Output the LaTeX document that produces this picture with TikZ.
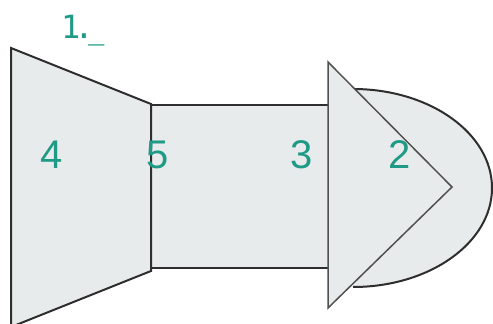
\documentclass[tikz,border=0pt]{standalone}
\usepackage{fontspec}
\setmainfont{Liberation Sans}
\newfontfamily\labmono{DejaVu Sans Mono}
\definecolor{shapefill}{HTML}{E8EBEC}
\definecolor{edgecol}{HTML}{2E2E2E}
\definecolor{tricol}{HTML}{505050}
\definecolor{labcol}{HTML}{1E9A86}
\tikzset{
  part/.style={fill=shapefill, draw=edgecol, line width=2pt, line join=miter},
  tripart/.style={fill=shapefill, draw=tricol, line width=1.5pt, line join=miter},
  numlab/.style={text=labcol, font=\fontsize{40}{40}\selectfont, inner sep=0pt, anchor=center},
  toplab/.style={text=labcol, font=\labmono\fontsize{32}{32}\selectfont, inner sep=0pt, anchor=base west}
}
\begin{document}
\begin{tikzpicture}[x=1pt,y=-1pt]
\useasboundingbox (0,0) rectangle (493,324);
% rectangle body
\draw[part] (151,105) rectangle (334,268);
% trapezoid
\draw[part] (11,48) -- (151,104) -- (151,271) -- (11,327) -- cycle;
% half ellipse
\fill[shapefill] (353,89) arc[start angle=90, end angle=-90, x radius=139pt, y radius=99pt] -- cycle;
\draw[draw=edgecol, line width=2pt] (353,89) arc[start angle=90, end angle=-90, x radius=139pt, y radius=99pt];
% triangle
\draw[tripart] (328,62) -- (452,187) -- (328,308) -- cycle;
% labels
\node[toplab] (l1) at (61,38) {1\kern-6pt.\kern-5.5pt\scalebox{0.85}[1]{\_}};
\node[numlab] (l4) at (52,155) {4};
\node[numlab] (l5) at (158,155) {5};
\node[numlab] (l3) at (302,155) {3};
\node[numlab] (l2) at (400,155) {2};
\end{tikzpicture}
\end{document}
